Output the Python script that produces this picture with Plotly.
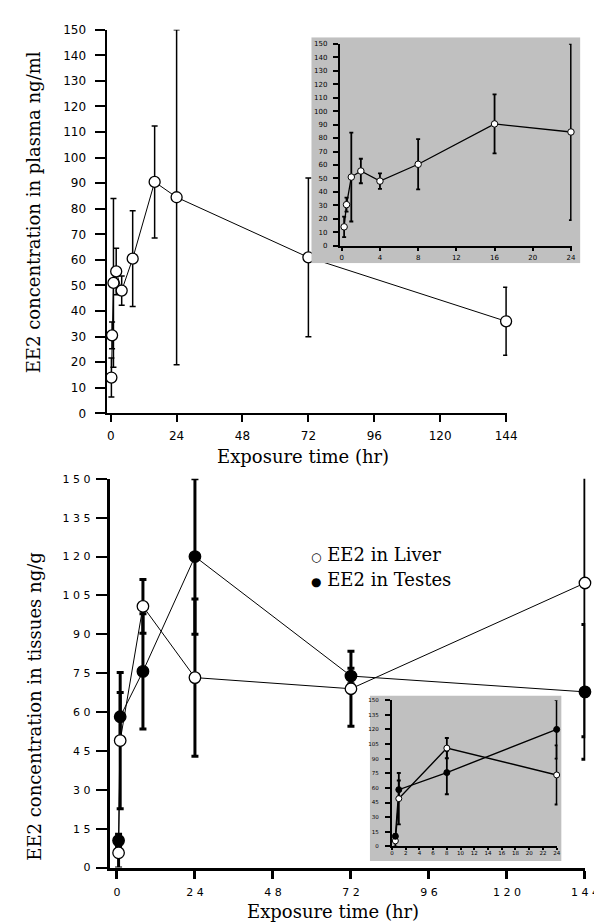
import plotly.graph_objects as go

W, H = 602, 922

# ---------------- data ----------------
plasma_time = [0.25, 0.5, 1, 2, 4, 8, 16, 24, 72, 144]
plasma_mean = [14, 30.5, 51, 55.5, 48, 60.5, 90.5, 84.5, 61, 36]
plasma_sd = [7.6, 5.2, 33, 9.1, 5.7, 18.7, 21.9, 65.5, 31, 13.3]

tissue_time = [0.5, 1, 8, 24, 72, 144]
liver_mean = [5.7, 49, 100.8, 73.3, 69, 109.8]
liver_sd = [5.9, 26.3, 10.4, 30.3, 14.5, 59.3]
testes_mean = [10.4, 58.2, 75.7, 120, 73.9, 67.8]
testes_sd = [2.5, 9.4, 22.2, 30, 3, 26]

top_xticks = [0, 24, 48, 72, 96, 120, 144]
top_yticks = list(range(0, 151, 10))
top_inset_xticks = [0, 4, 8, 12, 16, 20, 24]
bot_xticks = [0, 24, 48, 72, 96, 120, 144]
bot_xticklabels = ["0", "2 4", "4 8", "7 2", "9 6", "1 2 0", "1 4 4"]
bot_yticks = list(range(0, 151, 15))
bot_yticklabels = ["0", "1 5", "3 0", "4 5", "6 0", "7 5", "9 0", "1 0 5", "1 2 0", "1 3 5", "1 5 0"]
bot_inset_xticks = list(range(0, 25, 2))
inset_max_time = 24

# ---------------- helpers ----------------
def px(x):
    return x / W

def py(y):
    return 1 - y / H

def dom_x(a, b):
    return [px(a), px(b)]

def dom_y(top, bottom):
    return [py(bottom), py(top)]

def sub(t, v, s=None):
    idx = [i for i, tt in enumerate(t) if tt <= inset_max_time]
    out = [[t[i] for i in idx], [v[i] for i in idx]]
    if s is not None:
        out.append([s[i] for i in idx])
    return out

fig = go.Figure()

# ---------- top main (x / y) ----------
fig.add_trace(go.Scatter(
    x=plasma_time, y=plasma_mean, mode="lines", xaxis="x", yaxis="y",
    line=dict(color="black", width=1),
    error_y=dict(type="data", array=plasma_sd, color="black", thickness=1.5, width=3),
    showlegend=False, hoverinfo="skip"))
fig.add_trace(go.Scatter(
    x=plasma_time, y=plasma_mean, mode="markers", xaxis="x", yaxis="y",
    marker=dict(symbol="circle", size=11, color="white", line=dict(color="black", width=1.3)),
    cliponaxis=False, showlegend=False))

# ---------- top gray background (x2 / y2) ----------
fig.add_trace(go.Scatter(
    x=[0, 1, 1, 0, 0], y=[0, 0, 1, 1, 0], mode="lines", fill="toself",
    fillcolor="#c0c0c0", line=dict(width=0, color="#c0c0c0"),
    xaxis="x2", yaxis="y2", showlegend=False, hoverinfo="skip"))

# ---------- top inset (x3 / y3) ----------
it, iv, isd = sub(plasma_time, plasma_mean, plasma_sd)
fig.add_trace(go.Scatter(
    x=it, y=iv, mode="lines", xaxis="x3", yaxis="y3",
    line=dict(color="black", width=1.3),
    error_y=dict(type="data", array=isd, color="black", thickness=1.8, width=2),
    showlegend=False, hoverinfo="skip"))
fig.add_trace(go.Scatter(
    x=it, y=iv, mode="markers", xaxis="x3", yaxis="y3",
    marker=dict(symbol="circle", size=6.5, color="white", line=dict(color="black", width=1)),
    cliponaxis=False, showlegend=False))

# ---------- bottom main (x4 / y4) ----------
for mean, sd in [(liver_mean, liver_sd), (testes_mean, testes_sd)]:
    fig.add_trace(go.Scatter(
        x=tissue_time, y=mean, mode="lines", xaxis="x4", yaxis="y4",
        line=dict(color="black", width=1),
        error_y=dict(type="data", array=sd, color="black", thickness=3, width=3.5),
        showlegend=False, hoverinfo="skip"))
for mean, fillc in [(liver_mean, "white"), (testes_mean, "black")]:
    fig.add_trace(go.Scatter(
        x=tissue_time, y=mean, mode="markers", xaxis="x4", yaxis="y4",
        marker=dict(symbol="circle", size=11.5, color=fillc, line=dict(color="black", width=1.3)),
        cliponaxis=False, showlegend=False))

# ---------- bottom gray background (x5 / y5) ----------
fig.add_trace(go.Scatter(
    x=[0, 1, 1, 0, 0], y=[0, 0, 1, 1, 0], mode="lines", fill="toself",
    fillcolor="#c0c0c0", line=dict(width=0, color="#c0c0c0"),
    xaxis="x5", yaxis="y5", showlegend=False, hoverinfo="skip"))

# ---------- bottom inset (x6 / y6) ----------
for mean, sd in [(liver_mean, liver_sd), (testes_mean, testes_sd)]:
    bt, bv, bsd = sub(tissue_time, mean, sd)
    fig.add_trace(go.Scatter(
        x=bt, y=bv, mode="lines", xaxis="x6", yaxis="y6",
        line=dict(color="black", width=1.4),
        error_y=dict(type="data", array=bsd, color="black", thickness=1.8, width=2),
        showlegend=False, hoverinfo="skip"))
for mean, fillc in [(liver_mean, "white"), (testes_mean, "black")]:
    bt, bv = sub(tissue_time, mean)
    fig.add_trace(go.Scatter(
        x=bt, y=bv, mode="markers", xaxis="x6", yaxis="y6",
        marker=dict(symbol="circle", size=6, color=fillc, line=dict(color="black", width=1)),
        cliponaxis=False, showlegend=False))

# ---------------- axes ----------------
def axis(**kw):
    base = dict(showgrid=False, zeroline=False, showline=True, linecolor="black",
                ticks="outside", tickcolor="black", fixedrange=True)
    base.update(kw)
    return base

hidden = dict(visible=False, range=[0, 1], showgrid=False, zeroline=False, fixedrange=True)

f_top = dict(family="DejaVu Sans", size=12, color="black")
f_bot = dict(family="DejaVu Sans", size=11, color="black")
f_in1 = dict(family="DejaVu Sans", size=7, color="black")
f_in2 = dict(family="DejaVu Sans", size=5.5, color="black")

fig.update_layout(
    width=W, height=H,
    margin=dict(l=0, r=0, t=0, b=0),
    paper_bgcolor="white", plot_bgcolor="rgba(0,0,0,0)",
    showlegend=False,
    xaxis=axis(domain=dom_x(100, 511), range=[-1.53, 144.43], anchor="y",
               tickvals=top_xticks, ticklen=7, tickwidth=2, linewidth=2, tickfont=f_top,
               ticklabelstandoff=3),
    yaxis=axis(domain=dom_y(15, 404.5), range=[0, 150], anchor="x",
               tickvals=top_yticks, ticklen=10, tickwidth=2, linewidth=2, tickfont=f_top,
               ticklabelstandoff=6),
    xaxis2=dict(hidden, domain=dom_x(310, 586), anchor="y2"),
    yaxis2=dict(hidden, domain=dom_y(22.7, 252), anchor="x2"),
    xaxis3=axis(domain=dom_x(339, 577), range=[-0.23, 24.07], anchor="y3",
                tickvals=top_inset_xticks, ticklen=4, tickwidth=1.5, linewidth=1.5, tickfont=f_in1,
                ticklabelstandoff=0),
    yaxis3=axis(domain=dom_y(29.3, 234.25), range=[0, 150], anchor="x3",
                tickvals=top_yticks, ticklen=5, tickwidth=1.5, linewidth=1.5, tickfont=f_in1,
                ticklabelstandoff=4),
    xaxis4=axis(domain=dom_x(103.2, 591), range=[-2.25, 144.1], anchor="y4",
                tickvals=bot_xticks, ticktext=bot_xticklabels, ticklen=8, tickwidth=3,
                linewidth=3, tickfont=f_bot, ticklabelstandoff=4),
    yaxis4=axis(domain=dom_y(471, 865.7), range=[0, 150], anchor="x4",
                tickvals=bot_yticks, ticktext=bot_yticklabels, ticklen=11, tickwidth=2,
                linewidth=3, tickfont=f_bot, ticklabelstandoff=3),
    xaxis5=dict(hidden, domain=dom_x(370, 566.7), anchor="y5"),
    yaxis5=dict(hidden, domain=dom_y(691, 859), anchor="x5"),
    xaxis6=axis(domain=dom_x(392.45, 562.5), range=[-0.04, 24.12], anchor="y6",
                tickvals=bot_inset_xticks, ticklen=2, tickwidth=1.5, linewidth=1.5, tickfont=f_in2,
                ticklabelstandoff=-2),
    yaxis6=axis(domain=dom_y(695.7, 844.25), range=[0, 150], anchor="x6",
                tickvals=bot_yticks, ticklen=5, tickwidth=1.5, linewidth=1.5, tickfont=f_in2,
                ticklabelstandoff=5),
)

serif = "DejaVu Serif"
ann = [
    dict(text="EE2 concentration in plasma ng/ml", x=px(26), y=py(200), textangle=-90,
         font=dict(family=serif, size=18, color="black")),
    dict(text="Exposure time (hr)", x=px(302), y=py(448),
         font=dict(family=serif, size=18, color="black")),
    dict(text="EE2 concentration in tissues ng/g", x=px(26), y=py(702), textangle=-90,
         font=dict(family=serif, size=18, color="black")),
    dict(text="Exposure time (hr)", x=px(332), y=py(910),
         font=dict(family=serif, size=18, color="black")),
]
for a in ann:
    a.update(xref="paper", yref="paper", showarrow=False, xanchor="center", yanchor="middle")
    fig.add_annotation(**a)

legend_items = [("○", "EE2 in Liver", 548), ("●", "EE2 in Testes", 573)]
for sym, label, yy in legend_items:
    fig.add_annotation(text=f"<span style='font-size:12px'>{sym}</span> {label}",
                       x=px(308), y=py(yy), xref="paper", yref="paper", showarrow=False,
                       xanchor="left", yanchor="middle",
                       font=dict(family=serif, size=18, color="black"))

fig.write_html("out.html")
